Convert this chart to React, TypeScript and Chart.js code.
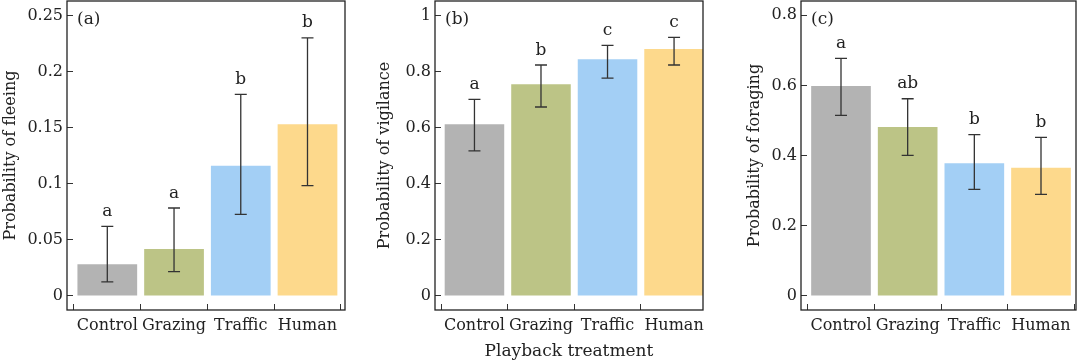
import React, { useEffect, useRef } from 'react';
import { Chart, registerables } from 'chart.js';

Chart.register(...registerables);

const categories = ['Control', 'Grazing', 'Traffic', 'Human'];
const barColors = ['#b3b3b3', '#bcc486', '#a3cff5', '#fdd98c'];

// (a) fleeing
const fleeMean = [0.0283, 0.0419, 0.1161, 0.153];
const fleeLow = [0.0125, 0.0217, 0.0728, 0.0983];
const fleeHigh = [0.0621, 0.0784, 0.1797, 0.23];
const fleeLetters = ['a', 'a', 'b', 'b'];
const fleeTicks = [0, 0.05, 0.1, 0.15, 0.2, 0.25];
const fleeTickLabels = ['0', '0.05', '0.1', '0.15', '0.2', '0.25'];

// (b) vigilance
const vigMean = [0.612, 0.7546, 0.8437, 0.8806];
const vigLow = [0.517, 0.6738, 0.777, 0.8235];
const vigHigh = [0.701, 0.8235, 0.8937, 0.9222];
const vigLetters = ['a', 'b', 'c', 'c'];
const vigTicks = [0, 0.2, 0.4, 0.6, 0.8, 1];
const vigTickLabels = ['0', '0.2', '0.4', '0.6', '0.8', '1'];

// (c) foraging
const forMean = [0.598, 0.4815, 0.378, 0.3656];
const forLow = [0.5147, 0.4008, 0.304, 0.2897];
const forHigh = [0.677, 0.562, 0.4596, 0.452];
const forLetters = ['a', 'ab', 'b', 'b'];
const forTicks = [0, 0.2, 0.4, 0.6, 0.8];
const forTickLabels = ['0', '0.2', '0.4', '0.6', '0.8'];

const FONT = "'DejaVu Serif', serif";
const INK = '#222222';

type Panel = {
  tag: string;
  yTitle: string;
  xTitle: string;
  mean: number[];
  low: number[];
  high: number[];
  letters: string[];
  ticks: number[];
  tickLabels: string[];
  yMin: number;
  yMax: number;
  xMin: number;
  xMax: number;
  left: number;
  axisWidth: number;
  rightPad: number;
  titlePad: number;
};

const panels: Panel[] = [
  {
    tag: '(a)', yTitle: 'Probability of fleeing', xTitle: '',
    mean: fleeMean, low: fleeLow, high: fleeHigh, letters: fleeLetters,
    ticks: fleeTicks, tickLabels: fleeTickLabels,
    yMin: -0.0125, yMax: 0.2629, xMin: -0.604, xMax: 3.562,
    left: 0, axisWidth: 67, rightPad: 15, titlePad: 1.4,
  },
  {
    tag: '(b)', yTitle: 'Probability of vigilance', xTitle: 'Playback treatment',
    mean: vigMean, low: vigLow, high: vigHigh, letters: vigLetters,
    ticks: vigTicks, tickLabels: vigTickLabels,
    yMin: -0.05, yMax: 1.0517, xMin: -0.593, xMax: 3.435,
    left: 360, axisWidth: 75, rightPad: 17, titlePad: 15.4,
  },
  {
    tag: '(c)', yTitle: 'Probability of foraging', xTitle: '',
    mean: forMean, low: forLow, high: forHigh, letters: forLetters,
    ticks: forTicks, tickLabels: forTickLabels,
    yMin: -0.04, yMax: 0.8405, xMin: -0.6, xMax: 3.525,
    left: 720, axisWidth: 81, rightPad: 4, titlePad: 25.4,
  },
];

function PanelChart({ p }: { p: Panel }) {
  const ref = useRef<HTMLCanvasElement | null>(null);
  useEffect(() => {
    if (!ref.current) return;
    const overlay = {
      id: 'overlay',
      afterDatasetsDraw(chart: any) {
        const ctx = chart.ctx;
        const xs = chart.scales.x;
        const ys = chart.scales.y;
        const area = chart.chartArea;
        ctx.save();
        // error bars
        ctx.strokeStyle = '#333333';
        ctx.lineWidth = 1.3;
        p.mean.forEach((_, i) => {
          const x = xs.getPixelForValue(i);
          const yl = ys.getPixelForValue(p.low[i]);
          const yh = ys.getPixelForValue(p.high[i]);
          ctx.beginPath();
          ctx.moveTo(x, yl);
          ctx.lineTo(x, yh);
          ctx.moveTo(x - 6, yl);
          ctx.lineTo(x + 6, yl);
          ctx.moveTo(x - 6, yh);
          ctx.lineTo(x + 6, yh);
          ctx.stroke();
        });
        // letters
        ctx.fillStyle = INK;
        ctx.font = `17px ${FONT}`;
        ctx.textAlign = 'center';
        ctx.textBaseline = 'alphabetic';
        p.letters.forEach((l, i) => {
          const x = xs.getPixelForValue(i);
          const yh = ys.getPixelForValue(p.high[i]);
          ctx.fillText(l, x, yh - 10.5);
        });
        // tag
        ctx.textAlign = 'left';
        ctx.textBaseline = 'middle';
        ctx.fillText(p.tag, area.left + 10, 20);
        // box
        ctx.strokeStyle = INK;
        ctx.lineWidth = 1.3;
        ctx.strokeRect(area.left, area.top, area.right - area.left, area.bottom - area.top);
        ctx.restore();
      },
    };
    const chart = new Chart(ref.current, {
      type: 'bar',
      data: {
        datasets: [
          {
            data: p.mean.map((v, i) => ({ x: i, y: v })),
            backgroundColor: barColors,
            borderWidth: 0,
            categoryPercentage: 1,
            barPercentage: 0.895,
          },
        ],
      },
      options: {
        animation: false,
        responsive: false,
        layout: { padding: { left: 0, right: p.rightPad, top: 1, bottom: 0 } },
        plugins: { legend: { display: false }, tooltip: { enabled: false } },
        scales: {
          x: {
            type: 'linear',
            offset: false,
            min: p.xMin,
            max: p.xMax,
            afterBuildTicks: (axis: any) => {
              axis.ticks = categories.map((_, i) => ({ value: i }));
            },
            afterFit: (axis: any) => {
              axis.height = 52;
              axis.paddingLeft = 0;
              axis.paddingRight = 0;
            },
            grid: { drawOnChartArea: false, tickLength: -6, color: '#333333', lineWidth: 1 },
            border: { display: false },
            ticks: {
              autoSkip: false,
              maxRotation: 0,
              padding: 12,
              color: INK,
              font: { family: FONT, size: 16 },
              callback: (v: any) => categories[v as number] ?? '',
            },
            title: {
              display: !!p.xTitle,
              text: p.xTitle,
              color: INK,
              font: { family: FONT, size: 17 },
              padding: { top: 0, bottom: 0.5 },
            },
          },
          y: {
            type: 'linear',
            min: p.yMin,
            max: p.yMax,
            afterBuildTicks: (axis: any) => {
              axis.ticks = p.ticks.map((v) => ({ value: v }));
            },
            afterFit: (axis: any) => {
              axis.width = p.axisWidth;
              axis.paddingTop = 0;
              axis.paddingBottom = 0;
            },
            grid: { drawOnChartArea: false, tickLength: -6, color: '#333333', lineWidth: 1 },
            border: { display: false },
            ticks: {
              padding: 10,
              color: INK,
              font: { family: FONT, size: 16 },
              callback: (v: any) => {
                const idx = p.ticks.findIndex((t) => Math.abs(t - v) < 1e-9);
                return idx >= 0 ? p.tickLabels[idx] : '';
              },
            },
            title: {
              display: true,
              text: p.yTitle,
              color: INK,
              font: { family: FONT, size: 16 },
              padding: { top: p.titlePad, bottom: 0 },
            },
          },
        },
      },
      plugins: [overlay],
    } as any);
    return () => chart.destroy();
  }, [p]);
  return (
    <canvas
      ref={ref}
      width={360}
      height={362}
      style={{ position: 'absolute', left: p.left, top: 0, width: 360, height: 362 }}
    />
  );
}

export default function App() {
  return (
    <div style={{ position: 'fixed', left: 0, top: 0, width: 1080, height: 362, background: '#ffffff' }}>
      {panels.map((p) => (
        <PanelChart key={p.tag} p={p} />
      ))}
    </div>
  );
}
